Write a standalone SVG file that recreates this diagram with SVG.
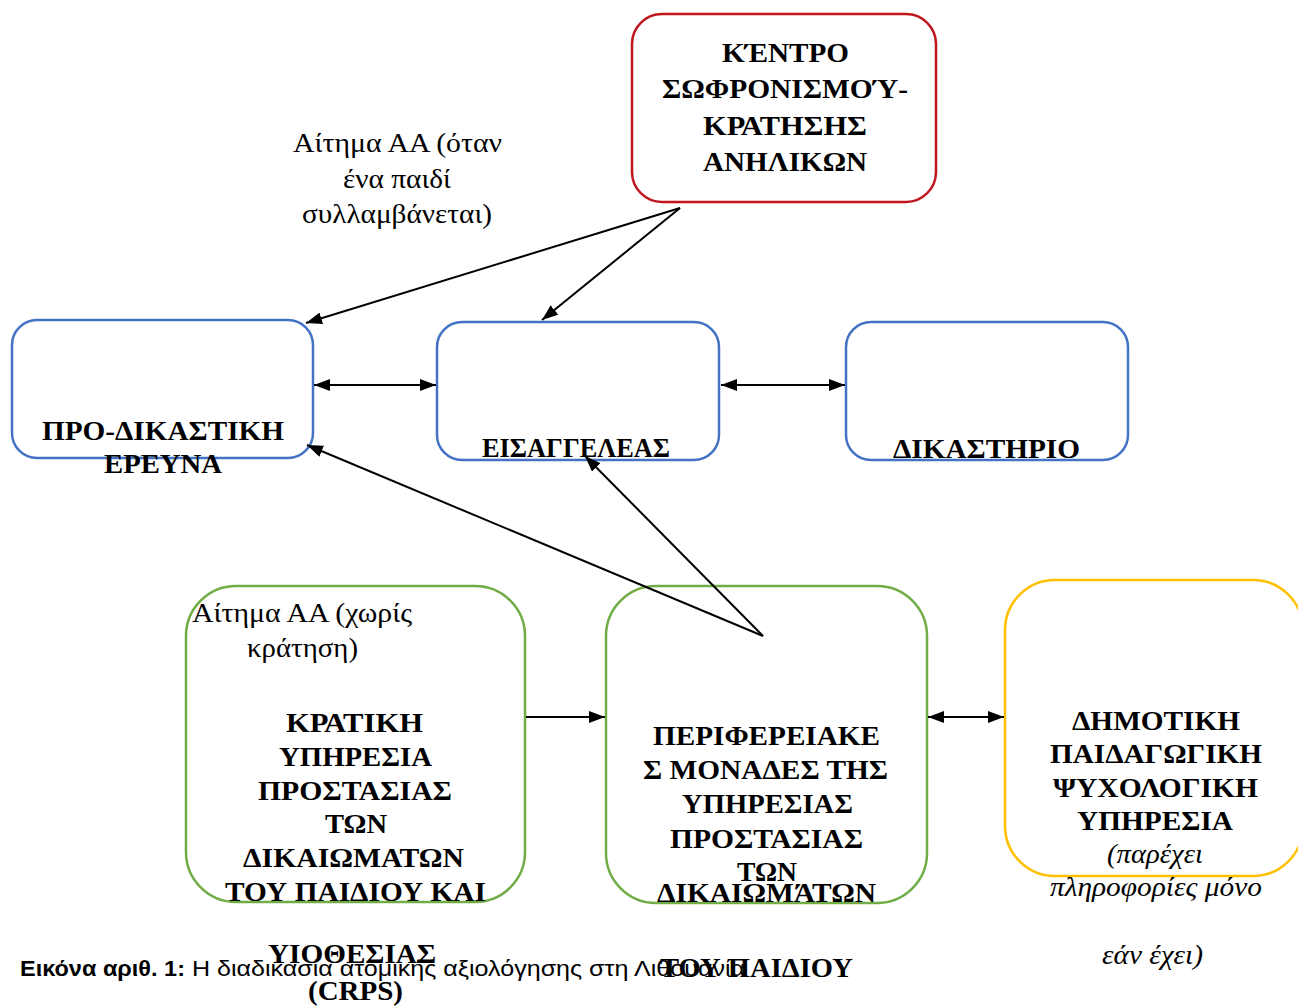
<svg xmlns="http://www.w3.org/2000/svg" width="1298" height="1008" viewBox="0 0 1298 1008">
<style>
.bg{fill:#fff}
.box{fill:#fff;stroke-width:2.5}
.red{stroke:#C0171D}
.blue{stroke:#4472C4}
.green{stroke:#70AD47}
.yellow{stroke:#FFC000}
.b{font-family:"Liberation Serif","Times New Roman",serif;font-weight:bold;font-size:28px;fill:#000}
.r{font-family:"Liberation Serif","Times New Roman",serif;font-size:27px;fill:#000}
.i{font-family:"Liberation Serif","Times New Roman",serif;font-style:italic;font-size:27px;fill:#000}
.cap{font-family:"Liberation Sans","Noto Sans",sans-serif;font-size:22px;fill:#000}
.conn line{stroke:#000;stroke-width:2;fill:none}
</style>
<defs>
<marker id="ah" viewBox="0 0 16 12" refX="16" refY="6" markerWidth="16" markerHeight="12" markerUnits="userSpaceOnUse" orient="auto-start-reverse">
<path d="M0,0 L16,6 L0,12 z" fill="#000"/>
</marker>
</defs>
<rect class="bg" x="0" y="0" width="1298" height="1008"/>

<g id="caption">
<text class="cap" x="20" y="976"><tspan font-weight="bold" textLength="165" lengthAdjust="spacingAndGlyphs">Εικόνα αριθ. 1:</tspan></text>
<text class="cap" x="192" y="976" textLength="553" lengthAdjust="spacingAndGlyphs">Η διαδικασία ατομικής αξιολόγησης στη Λιθουανία</text>
</g>

<g id="kentro">
<rect class="box red" x="632" y="14" width="304" height="188" rx="30"/>
<text class="b" x="722" y="62" textLength="127" lengthAdjust="spacingAndGlyphs">ΚΈΝΤΡΟ</text>
<text class="b" x="662" y="98" textLength="246" lengthAdjust="spacingAndGlyphs">ΣΩΦΡΟΝΙΣΜΟΎ-</text>
<text class="b" x="703" y="135" textLength="164" lengthAdjust="spacingAndGlyphs">ΚΡΑΤΗΣΗΣ</text>
<text class="b" x="703" y="171" textLength="164" lengthAdjust="spacingAndGlyphs">ΑΝΗΛΙΚΩΝ</text>
</g>

<g id="label-arrest">
<text class="r" x="293" y="152" textLength="209" lengthAdjust="spacingAndGlyphs">Αίτημα ΑΑ (όταν</text>
<text class="r" x="343" y="188" textLength="108" lengthAdjust="spacingAndGlyphs">ένα παιδί</text>
<text class="r" x="302" y="223" textLength="190" lengthAdjust="spacingAndGlyphs">συλλαμβάνεται)</text>
</g>

<g id="prodikastiki">
<rect class="box blue" x="12" y="320" width="301" height="138" rx="25"/>
<text class="b" x="42" y="440" textLength="242" lengthAdjust="spacingAndGlyphs">ΠΡΟ-ΔΙΚΑΣΤΙΚΗ</text>
<text class="b" x="104" y="473" textLength="118" lengthAdjust="spacingAndGlyphs">ΕΡΕΥΝΑ</text>
</g>

<g id="eisaggeleas">
<rect class="box blue" x="437" y="322" width="282" height="138" rx="25"/>
<text class="b" x="482" y="457" textLength="188" lengthAdjust="spacingAndGlyphs">ΕΙΣΑΓΓΕΛΕΑΣ</text>
</g>

<g id="dikastirio">
<rect class="box blue" x="846" y="322" width="282" height="138" rx="25"/>
<text class="b" x="893" y="458" textLength="187" lengthAdjust="spacingAndGlyphs">ΔΙΚΑΣΤΗΡΙΟ</text>
</g>

<g id="kratiki">
<rect class="box green" x="186" y="586" width="339" height="316" rx="50"/>
<text class="r" x="192" y="622" textLength="220" lengthAdjust="spacingAndGlyphs">Αίτημα ΑΑ (χωρίς</text>
<text class="r" x="247" y="657" textLength="111" lengthAdjust="spacingAndGlyphs">κράτηση)</text>
<text class="b" x="286" y="732" textLength="137" lengthAdjust="spacingAndGlyphs">ΚΡΑΤΙΚΗ</text>
<text class="b" x="279" y="766" textLength="153" lengthAdjust="spacingAndGlyphs">ΥΠΗΡΕΣΙΑ</text>
<text class="b" x="258" y="800" textLength="194" lengthAdjust="spacingAndGlyphs">ΠΡΟΣΤΑΣΙΑΣ</text>
<text class="b" x="325" y="833" textLength="62" lengthAdjust="spacingAndGlyphs">ΤΩΝ</text>
<text class="b" x="243" y="867" textLength="221" lengthAdjust="spacingAndGlyphs">ΔΙΚΑΙΩΜΑΤΩΝ</text>
<text class="b" x="225" y="901" textLength="261" lengthAdjust="spacingAndGlyphs">ΤΟΥ ΠΑΙΔΙΟΥ ΚΑΙ</text>
<text class="b" x="268" y="963" textLength="168" lengthAdjust="spacingAndGlyphs">ΥΙΟΘΕΣΙΑΣ</text>
<text class="b" x="308" y="1000" textLength="95" lengthAdjust="spacingAndGlyphs">(CRPS)</text>
</g>

<g id="perifereiakes">
<rect class="box green" x="606" y="586" width="321" height="317" rx="50"/>
<text class="b" x="653" y="745" textLength="227" lengthAdjust="spacingAndGlyphs">ΠΕΡΙΦΕΡΕΙΑΚΕ</text>
<text class="b" x="643" y="779" textLength="245" lengthAdjust="spacingAndGlyphs">Σ ΜΟΝΑΔΕΣ ΤΗΣ</text>
<text class="b" x="682" y="813" textLength="171" lengthAdjust="spacingAndGlyphs">ΥΠΗΡΕΣΙΑΣ</text>
<text class="b" x="670" y="848" textLength="193" lengthAdjust="spacingAndGlyphs">ΠΡΟΣΤΑΣΙΑΣ</text>
<text class="b" x="737" y="881" textLength="60" lengthAdjust="spacingAndGlyphs">ΤΩΝ</text>
<text class="b" x="657" y="902" textLength="219" lengthAdjust="spacingAndGlyphs">ΔΙΚΑΙΩΜΆΤΩΝ</text>
<text class="b" x="660" y="977" textLength="193" lengthAdjust="spacingAndGlyphs">ΤΟΥ ΠΑΙΔΙΟΥ</text>
</g>

<g id="dimotiki">
<rect class="box yellow" x="1005" y="580" width="298" height="296" rx="50"/>
<text class="b" x="1072" y="730" textLength="168" lengthAdjust="spacingAndGlyphs">ΔΗΜΟΤΙΚΗ</text>
<text class="b" x="1050" y="763" textLength="212" lengthAdjust="spacingAndGlyphs">ΠΑΙΔΑΓΩΓΙΚΗ</text>
<text class="b" x="1053" y="797" textLength="205" lengthAdjust="spacingAndGlyphs">ΨΥΧΟΛΟΓΙΚΗ</text>
<text class="b" x="1077" y="830" textLength="156" lengthAdjust="spacingAndGlyphs">ΥΠΗΡΕΣΙΑ</text>
<text class="i" x="1107" y="863" textLength="96" lengthAdjust="spacingAndGlyphs">(παρέχει</text>
<text class="i" x="1050" y="896" textLength="212" lengthAdjust="spacingAndGlyphs">πληροφορίες μόνο</text>
<text class="i" x="1102" y="964" textLength="101" lengthAdjust="spacingAndGlyphs">εάν έχει)</text>
</g>

<g id="connectors" class="conn">
<line x1="680" y1="208" x2="306" y2="323" marker-end="url(#ah)"/>
<line x1="680" y1="208" x2="542" y2="320" marker-end="url(#ah)"/>
<line x1="314" y1="385" x2="436" y2="385" marker-start="url(#ah)" marker-end="url(#ah)"/>
<line x1="721" y1="385" x2="845" y2="385" marker-start="url(#ah)" marker-end="url(#ah)"/>
<line x1="763" y1="636" x2="307" y2="445" marker-end="url(#ah)"/>
<line x1="763" y1="636" x2="585" y2="456" marker-end="url(#ah)"/>
<line x1="526" y1="717" x2="605" y2="717" marker-end="url(#ah)"/>
<line x1="928" y1="717" x2="1004" y2="717" marker-start="url(#ah)" marker-end="url(#ah)"/>
</g>
</svg>
